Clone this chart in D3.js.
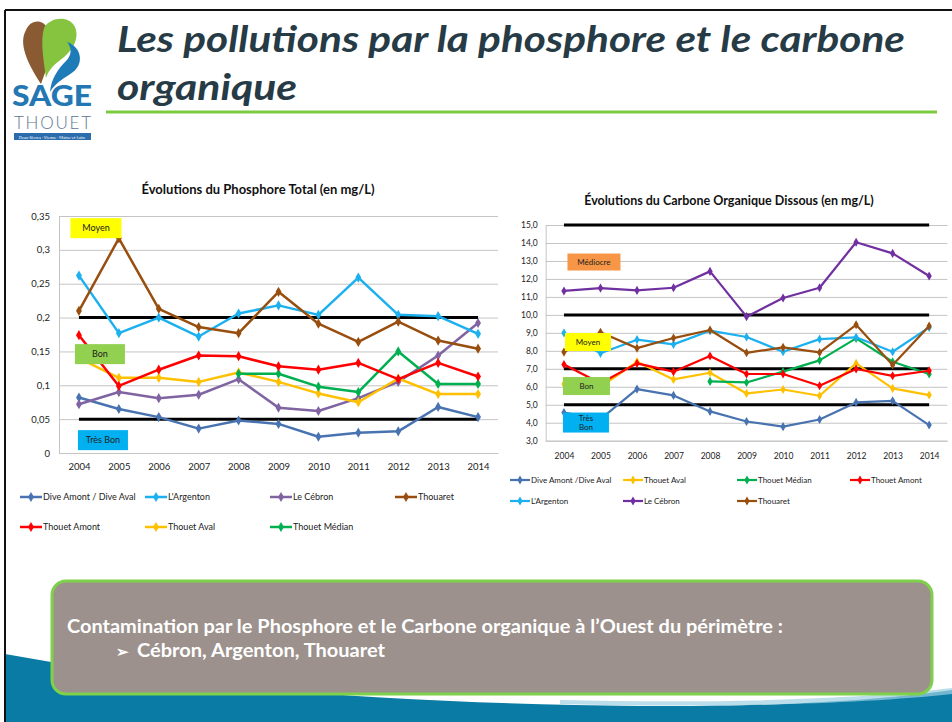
<html>
<head>
<meta charset="utf-8">
<script src="https://cdn.jsdelivr.net/npm/d3@7"></script>
<style>
  body { margin: 0; background: #fff; }
  text { font-family: Lato, "Open Sans", sans-serif; }
</style>
</head>
<body>
<div id="slide"></div>
<script>
// categories
const years = ["2004", "2005", "2006", "2007", "2008", "2009", "2010", "2011", "2012", "2013", "2014"];

// Phosphore total (mg/L)
const phosDive = [0.082, 0.065, 0.053, 0.036, 0.048, 0.043, 0.024, 0.030, 0.032, 0.068, 0.053];
const phosArgenton = [0.262, 0.177, 0.200, 0.172, 0.206, 0.218, 0.204, 0.259, 0.204, 0.202, 0.176];
const phosCebron = [0.072, 0.090, 0.081, 0.086, 0.109, 0.067, 0.062, 0.081, 0.105, 0.144, 0.192];
const phosThouaret = [0.210, 0.317, 0.213, 0.186, 0.177, 0.238, 0.191, 0.164, 0.194, 0.166, 0.154];
const phosThouetAmont = [0.174, 0.099, 0.123, 0.144, 0.143, 0.128, 0.123, 0.133, 0.109, 0.133, 0.113];
const phosThouetAval = [0.140, 0.111, 0.111, 0.105, 0.119, 0.105, 0.088, 0.075, 0.110, 0.087, 0.087];
const phosThouetMedian = [null, null, null, null, 0.117, 0.117, 0.098, 0.090, 0.150, 0.102, 0.102];
const phosLimits = [0.2, 0.05];
const phosTicks = [0, 0.05, 0.1, 0.15, 0.2, 0.25, 0.3, 0.35];
const phosZones = [
  { label: ["Moyen"], value: 0.332, color: "#ffff00", w: 51, h: 20, dx: 17 },
  { label: ["Bon"], value: 0.146, color: "#92d050", w: 50, h: 20, dx: 21 },
  { label: ["Très Bon"], value: 0.019, color: "#00b0f0", w: 50, h: 20, dx: 24 }
];

// Carbone organique dissous (mg/L)
const cotDive = [4.57, 4.2, 5.87, 5.52, 4.63, 4.07, 3.78, 4.18, 5.13, 5.22, 3.87];
const cotArgenton = [8.99, 7.86, 8.62, 8.36, 9.12, 8.77, 7.95, 8.65, 8.75, 7.95, 9.30];
const cotCebron = [11.33, 11.49, 11.36, 11.51, 12.42, 9.90, 10.94, 11.51, 14.04, 13.42, 12.16];
const cotThouaret = [7.93, 9.03, 8.15, 8.71, 9.16, 7.89, 8.19, 7.91, 9.45, 7.21, 9.38];
const cotThouetAmont = [7.24, 6.2, 7.30, 6.84, 7.71, 6.71, 6.71, 6.06, 6.99, 6.61, 6.89];
const cotThouetAval = [6.15, 6.0, 7.39, 6.41, 6.78, 5.63, 5.85, 5.50, 7.30, 5.91, 5.54];
const cotThouetMedian = [null, null, null, null, 6.30, 6.24, 6.84, 7.47, 8.69, 7.39, 6.71];
const cotLimits = [15, 10, 7, 5];
const cotTicks = [3, 4, 5, 6, 7, 8, 9, 10, 11, 12, 13, 14, 15];
const cotZones = [
  { label: ["Médiocre"], value: 12.94, color: "#f79646", w: 53, h: 17, dx: 30 },
  { label: ["Moyen"], value: 8.49, color: "#ffff00", w: 46, h: 18, dx: 24 },
  { label: ["Bon"], value: 6.04, color: "#92d050", w: 47, h: 18, dx: 22.5 },
  { label: ["Très", "Bon"], value: 4.01, color: "#00b0f0", w: 46, h: 20, dx: 22 }
];

const fr = d3.formatLocale({ decimal: ",", thousands: " ", grouping: [3], currency: ["", " €"] });

const svg = d3.select("#slide").append("svg")
  .attr("width", 952).attr("height", 722);

// bottom swoosh
svg.append("path")
  .attr("d", "M5,654 C200,690 420,704 640,706 C780,707 880,700 952,690 L952,722 L5,722 Z")
  .attr("fill", "#0a7ba4");
svg.append("path")
  .attr("d", "M560,700 C720,704 860,699 952,688 L952,694 C860,704 720,708 560,704 Z")
  .attr("fill", "#9fd0e2").attr("opacity", 0.7);

// slide frame
svg.append("line").attr("x1", 5).attr("x2", 952).attr("y1", 10).attr("y2", 10)
  .attr("stroke", "#111").attr("stroke-width", 2);
svg.append("line").attr("x1", 5).attr("x2", 5).attr("y1", 10).attr("y2", 722)
  .attr("stroke", "#111").attr("stroke-width", 2);

// logo
const logo = svg.append("g");
logo.append("path").attr("d", "M26,30 C18,44 28,64 41,84 C48,66 55,44 48,29 C43,19 31,19 26,30 Z").attr("fill", "#8a5a33");
logo.append("path").attr("d", "M44,28 C50,17 69,15 75,27 C80,39 72,52 59,61 C52,66 48,72 46,78 C44,62 40,42 44,28 Z").attr("fill", "#86c440");
logo.append("path").attr("d", "M67,42 C82,47 84,64 73,72 C65,78 56,82 50,92 C51,78 59,68 66,61 C72,55 72,48 67,42 Z").attr("fill", "#1d7bb7");
logo.append("text").attr("x", 12).attr("y", 106).attr("textLength", 80).attr("lengthAdjust", "spacingAndGlyphs")
  .style("font-size", "28px").style("font-weight", "900").attr("fill", "#2378b4").text("SAGE");
logo.append("text").attr("x", 14).attr("y", 129).attr("textLength", 77).attr("lengthAdjust", "spacing")
  .style("font-size", "17px").style("font-weight", "300").attr("fill", "#5d7590").text("THOUET");
logo.append("rect").attr("x", 14).attr("y", 133).attr("width", 77).attr("height", 7).attr("fill", "#2b6cad");
logo.append("text").attr("x", 52).attr("y", 138.5).attr("text-anchor", "middle")
  .style("font-size", "4px").attr("fill", "#fff").text("Deux-Sèvres · Vienne · Maine-et-Loire");

// title
const titleColor = "#263b45";
[["Les pollutions par la phosphore et le carbone", 52, 788], ["organique", 100, 180]].forEach(([t, yy, len]) => {
  svg.append("text").attr("x", 117).attr("y", yy)
    .attr("textLength", len).attr("lengthAdjust", "spacingAndGlyphs")
    .style("font-size", "36px").style("font-weight", "bold").style("font-style", "italic")
    .attr("fill", titleColor).text(t);
});
svg.append("line").attr("x1", 106).attr("x2", 937).attr("y1", 112).attr("y2", 112)
  .attr("stroke", "#7ccb3f").attr("stroke-width", 3);

function drawChart(cfg) {
  const g = svg.append("g");
  const x = d3.scalePoint().domain(years).range([cfg.left, cfg.right]).padding(0.5);
  const y = d3.scaleLinear().domain(cfg.domain).range([cfg.bottom, cfg.top]);

  // gridlines
  g.append("g").attr("transform", `translate(${cfg.left},0)`)
    .call(d3.axisLeft(y).tickValues(cfg.ticks).tickSize(-(cfg.right - cfg.left)).tickFormat(""))
    .call(a => a.select(".domain").remove())
    .selectAll("line").attr("stroke", "#c4c4c4").attr("stroke-width", 1);

  // y axis
  g.append("g").attr("transform", `translate(${cfg.left},0)`)
    .call(d3.axisLeft(y).tickValues(cfg.ticks).tickSize(0).tickPadding(cfg.yPad).tickFormat(fr.format(cfg.fmt)))
    .call(a => a.select(".domain").attr("stroke", "#c4c4c4"))
    .selectAll("text").style("font-size", cfg.tickSize + "px").attr("fill", "#222")
    .style("font-family", "Lato, sans-serif");

  // x axis
  g.append("g").attr("transform", `translate(0,${cfg.bottom})`)
    .call(d3.axisBottom(x).tickSize(0).tickPadding(cfg.xPad))
    .call(a => a.select(".domain").attr("stroke", "#c4c4c4"))
    .selectAll("text").style("font-size", cfg.tickSize + "px").attr("fill", "#222")
    .style("font-family", "Lato, sans-serif");

  // limit lines
  g.selectAll(".limit").data(cfg.limits).join("line")
    .attr("x1", x(years[0])).attr("x2", x(years[years.length - 1]))
    .attr("y1", d => y(d)).attr("y2", d => y(d))
    .attr("stroke", "#000").attr("stroke-width", 3);

  // series
  const line = d3.line().defined(d => d.v != null).x(d => x(d.year)).y(d => y(d.v));
  const diamond = d3.symbol(d3.symbolDiamond).size(cfg.marker);
  cfg.series.forEach(s => {
    const pts = years.map((yr, i) => ({ year: yr, v: s.values[i] }));
    g.append("path").datum(pts).attr("d", line)
      .attr("fill", "none").attr("stroke", s.color).attr("stroke-width", cfg.lw)
      .attr("stroke-linejoin", "round");
    g.selectAll(null).data(pts.filter(d => d.v != null)).join("path")
      .attr("d", diamond)
      .attr("transform", d => `translate(${x(d.year)},${y(d.v)})`)
      .attr("fill", s.color);
  });

  // quality classes
  cfg.zones.forEach(z => {
    const cx = x(years[0]) + z.dx, cy = y(z.value);
    g.append("rect").attr("x", cx - z.w / 2).attr("y", cy - z.h / 2)
      .attr("width", z.w).attr("height", z.h).attr("fill", z.color);
    z.label.forEach((t, i) => {
      g.append("text").attr("x", cx).attr("y", cy + (i - (z.label.length - 1) / 2) * 9 + 3)
        .attr("text-anchor", "middle").style("font-size", cfg.zoneSize + "px")
        .attr("fill", "#222").text(t);
    });
  });

  // title
  g.append("text").attr("x", cfg.titleX).attr("y", cfg.titleY).attr("text-anchor", "middle")
    .style("font-size", cfg.titleSize + "px").style("font-weight", "bold").attr("fill", "#111")
    .text(cfg.title);

  // legend
  cfg.legend.forEach(l => {
    const s = cfg.series.find(d => d.name === l.name);
    g.append("line").attr("x1", l.x).attr("x2", l.x + cfg.legW).attr("y1", l.y).attr("y2", l.y)
      .attr("stroke", s.color).attr("stroke-width", cfg.lw);
    g.append("path").attr("d", diamond).attr("transform", `translate(${l.x + cfg.legW / 2},${l.y})`).attr("fill", s.color);
    g.append("text").attr("x", l.x + cfg.legW + 1).attr("y", l.y + 3)
      .style("font-size", cfg.legSize + "px").attr("fill", "#222").text(l.label);
  });
}

drawChart({
  left: 59, right: 498, top: 216, bottom: 453,
  domain: [0, 0.35], ticks: phosTicks, fmt: "~g", yPad: 9, xPad: 10, tickSize: 9.5,
  limits: phosLimits, lw: 2.5, marker: 30, zones: phosZones, zoneSize: 9,
  title: "Évolutions du Phosphore Total (en mg/L)", titleX: 258, titleY: 194, titleSize: 13,
  series: [
    { name: "dive", values: phosDive, color: "#4873b0" },
    { name: "cebron", values: phosCebron, color: "#8064a2" },
    { name: "aval", values: phosThouetAval, color: "#ffc000" },
    { name: "median", values: phosThouetMedian, color: "#00b050" },
    { name: "amont", values: phosThouetAmont, color: "#ff0000" },
    { name: "argenton", values: phosArgenton, color: "#1cb0ee" },
    { name: "thouaret", values: phosThouaret, color: "#984e0f" }
  ],
  legW: 22, legSize: 9,
  legend: [
    { name: "dive", label: "Dive Amont / Dive Aval", x: 20, y: 497 },
    { name: "argenton", label: "L'Argenton", x: 145, y: 497 },
    { name: "cebron", label: "Le Cébron", x: 270, y: 497 },
    { name: "thouaret", label: "Thouaret", x: 395, y: 497 },
    { name: "amont", label: "Thouet Amont", x: 20, y: 527 },
    { name: "aval", label: "Thouet Aval", x: 145, y: 527 },
    { name: "median", label: "Thouet Médian", x: 270, y: 527 }
  ]
});

drawChart({
  left: 545.7, right: 947.4, top: 225, bottom: 440.7,
  domain: [3, 15], ticks: cotTicks, fmt: ".1f", yPad: 8, xPad: 12, tickSize: 8.5,
  limits: cotLimits, lw: 2.2, marker: 24, zones: cotZones, zoneSize: 8,
  title: "Évolutions du Carbone Organique Dissous (en mg/L)", titleX: 729, titleY: 205, titleSize: 12.5,
  series: [
    { name: "dive", values: cotDive, color: "#4873b0" },
    { name: "aval", values: cotThouetAval, color: "#ffc000" },
    { name: "median", values: cotThouetMedian, color: "#00b050" },
    { name: "amont", values: cotThouetAmont, color: "#ff0000" },
    { name: "argenton", values: cotArgenton, color: "#1cb0ee" },
    { name: "thouaret", values: cotThouaret, color: "#984e0f" },
    { name: "cebron", values: cotCebron, color: "#7030a0" }
  ],
  legW: 20, legSize: 8,
  legend: [
    { name: "dive", label: "Dive Amont /Dive Aval", x: 510, y: 480 },
    { name: "aval", label: "Thouet Aval", x: 623, y: 480 },
    { name: "median", label: "Thouet Médian", x: 737, y: 480 },
    { name: "amont", label: "Thouet Amont", x: 850, y: 480 },
    { name: "argenton", label: "L'Argenton", x: 510, y: 501 },
    { name: "cebron", label: "Le Cébron", x: 623, y: 501 },
    { name: "thouaret", label: "Thouaret", x: 737, y: 501 }
  ]
});

// conclusion box
svg.append("rect").attr("x", 52).attr("y", 581).attr("width", 880).attr("height", 113)
  .attr("rx", 14).attr("fill", "#9c918c").attr("stroke", "#7fd04a").attr("stroke-width", 3);
svg.append("text").attr("x", 67).attr("y", 633)
  .attr("textLength", 716).attr("lengthAdjust", "spacingAndGlyphs")
  .style("font-size", "18px").style("font-weight", "bold").attr("fill", "#fff")
  .text("Contamination par le Phosphore et le Carbone organique à l’Ouest du périmètre :");
svg.append("text").attr("x", 116).attr("y", 657)
  .style("font-size", "15px").style("font-weight", "bold").attr("fill", "#fff")
  .text("➢");
svg.append("text").attr("x", 137).attr("y", 657)
  .attr("textLength", 248).attr("lengthAdjust", "spacingAndGlyphs")
  .style("font-size", "18px").style("font-weight", "bold").attr("fill", "#fff")
  .text("Cébron, Argenton, Thouaret");
</script>
</body>
</html>
